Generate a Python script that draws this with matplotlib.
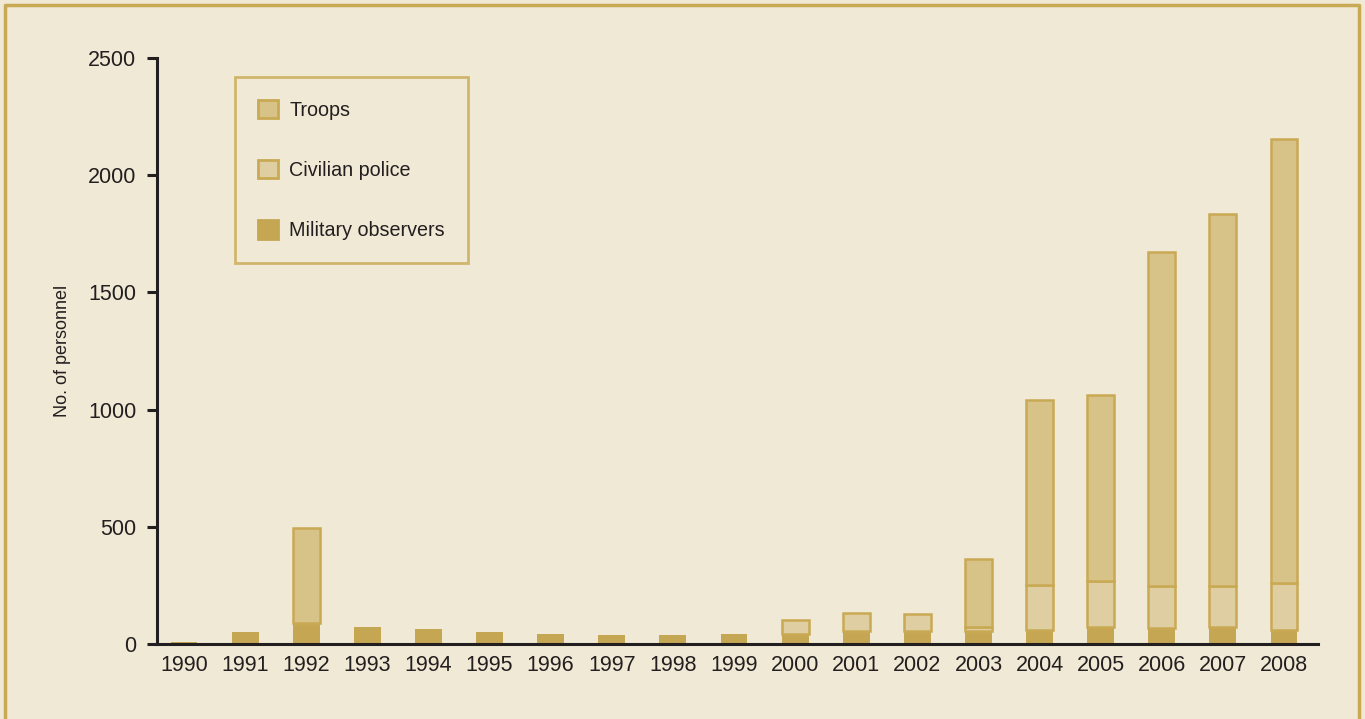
import matplotlib
matplotlib.use("Agg")
import matplotlib.pyplot as plt
from matplotlib.patches import Patch
import numpy as np

years = [str(y) for y in range(1990, 2009)]
military_observers = [8, 50, 90, 72, 64, 51, 43, 38, 37, 42, 43, 55, 55, 55, 60, 72, 70, 72, 60]
civilian_police = [0, 0, 0, 0, 0, 0, 0, 0, 0, 0, 59, 77, 73, 17, 192, 197, 177, 175, 200]
troops = [0, 0, 405, 0, 0, 0, 0, 0, 0, 0, 0, 0, 0, 291, 789, 793, 1425, 1587, 1894]

BG = "#f0e9d5"
GOLD = "#c9a953"
MO_C = "#c5a753"
TR_C = "#d7c388"
CP_C = "#dfcea2"
INK = "#231f20"

plt.rcParams['font.family'] = ['Liberation Sans', 'DejaVu Sans']

fig = plt.figure(figsize=(13.65, 7.19), dpi=100, facecolor=BG)
ax = fig.add_axes([157/1365, 75/719, 1161/1365, 586/719])
ax.set_facecolor(BG)

x = np.arange(len(years))
w = 0.44
mo = np.array(military_observers)
cp = np.array(civilian_police)
tr = np.array(troops)

ax.bar(x, mo, w, color=MO_C, edgecolor='none', zorder=2)
cp_mask = cp > 0
ax.bar(x[cp_mask], cp[cp_mask], w, bottom=mo[cp_mask], color=CP_C, edgecolor=GOLD, linewidth=1.8, zorder=3)
tr_mask = tr > 0
ax.bar(x[tr_mask], tr[tr_mask], w, bottom=(mo + cp)[tr_mask], color=TR_C, edgecolor=GOLD, linewidth=1.8, zorder=3)

ax.set_xlim(-0.442, 18.556)
ax.set_ylim(0, 2500)
ax.set_xticks(x)
ax.set_xticklabels(years)
ax.set_yticks([0, 500, 1000, 1500, 2000, 2500])

for s in ['top', 'right']:
    ax.spines[s].set_visible(False)
for s in ['left', 'bottom']:
    ax.spines[s].set_color(INK)
    ax.spines[s].set_linewidth(2.2)
    ax.spines[s].set_zorder(5)

ax.tick_params(axis='x', length=0, pad=8, labelsize=15.5, labelcolor=INK)
ax.tick_params(axis='y', length=7, width=2.2, color=INK, pad=8, labelsize=15.5, labelcolor=INK)
ax.set_ylabel("No. of personnel", fontsize=13, color=INK, labelpad=12)

handles = [Patch(facecolor=TR_C, edgecolor=GOLD, linewidth=2, label="Troops"),
           Patch(facecolor=CP_C, edgecolor=GOLD, linewidth=2, label="Civilian police"),
           Patch(facecolor=MO_C, edgecolor=MO_C, linewidth=2, label="Military observers")]
leg = ax.legend(handles=handles, loc='upper left', bbox_to_anchor=((235-157)/1161, (644-77)/586),
                frameon=True, fancybox=False, fontsize=14.2, labelspacing=2.05,
                handlelength=1.05, handleheight=1.05, handletextpad=0.55,
                borderpad=1.15, borderaxespad=0, labelcolor=INK)
leg.get_frame().set_facecolor(BG)
leg.get_frame().set_edgecolor(GOLD)
leg.get_frame().set_linewidth(2)

# figure border (left, top, right)
fig.add_artist(plt.Line2D([5/1365, 5/1365, 1359/1365, 1359/1365], [0, 1-5/719, 1-5/719, 0],
                          transform=fig.transFigure, color=GOLD, linewidth=2.5))

fig.savefig("out.png", dpi=100, facecolor=BG)
